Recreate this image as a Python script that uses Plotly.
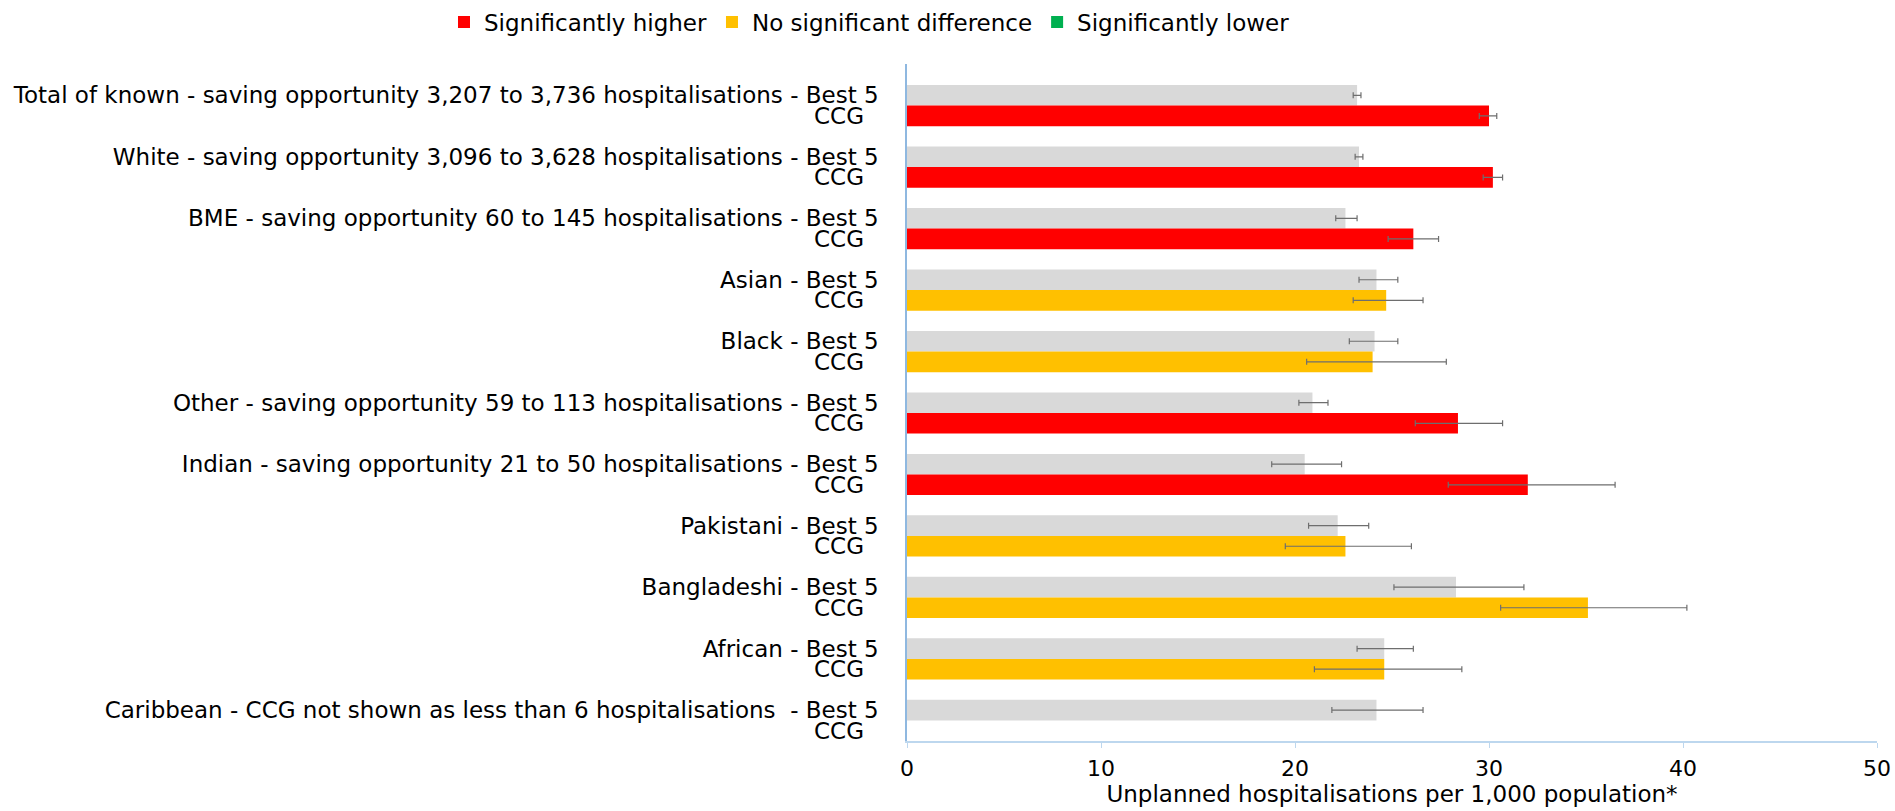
import plotly.graph_objects as go

categories = [
    "Total of known - saving opportunity 3,207 to 3,736 hospitalisations - Best 5",
    "White - saving opportunity 3,096 to 3,628 hospitalisations - Best 5",
    "BME - saving opportunity 60 to 145 hospitalisations - Best 5",
    "Asian - Best 5",
    "Black - Best 5",
    "Other - saving opportunity 59 to 113 hospitalisations - Best 5",
    "Indian - saving opportunity 21 to 50 hospitalisations - Best 5",
    "Pakistani - Best 5",
    "Bangladeshi - Best 5",
    "African - Best 5",
    "Caribbean - CCG not shown as less than 6 hospitalisations  - Best 5",
]
ccg_label = "CCG"
best5 = [23.2, 23.3, 22.6, 24.2, 24.1, 20.9, 20.5, 22.2, 28.3, 24.6, 24.2]
best5_lo = [23.0, 23.1, 22.1, 23.3, 22.8, 20.2, 18.8, 20.7, 25.1, 23.2, 21.9]
best5_hi = [23.4, 23.5, 23.2, 25.3, 25.3, 21.7, 22.4, 23.8, 31.8, 26.1, 26.6]
ccg = [30.0, 30.2, 26.1, 24.7, 24.0, 28.4, 32.0, 22.6, 35.1, 24.6, None]
ccg_lo = [29.5, 29.7, 24.8, 23.0, 20.6, 26.2, 27.9, 19.5, 30.6, 21.0, None]
ccg_hi = [30.4, 30.7, 27.4, 26.6, 27.8, 30.7, 36.5, 26.0, 40.2, 28.6, None]
significance = ["higher", "higher", "higher", "none", "none", "higher",
                "higher", "none", "none", "none", None]

sig_groups = [("higher", "Significantly higher", "#FF0000"),
              ("none", "No significant difference", "#FFC000"),
              ("lower", "Significantly lower", "#00B050")]

FONT = "DejaVu Sans, Verdana, sans-serif"
BARGAP = 0.33
half = (1 - BARGAP) / 4  # centre offset of each bar within its group

idx = list(range(len(categories)))
tickvals, ticktext = [], []
for i, c in zip(idx, categories):
    tickvals += [i - half, i + half]
    ticktext += [c, ccg_label + "\u00a0\u00a0"]

fig = go.Figure()
fig.add_trace(go.Bar(
    y=idx, x=best5, orientation="h", name="Best 5",
    marker=dict(color="#D9D9D9", line=dict(width=0)),
    offsetgroup="best", showlegend=False,
    error_x=dict(type="data", symmetric=False,
                 array=[h - v for h, v in zip(best5_hi, best5)],
                 arrayminus=[v - l for v, l in zip(best5, best5_lo)],
                 color="#6E6E6E", thickness=1.2, width=3),
))
for key, name, color in sig_groups:
    xs, plus, minus = [], [], []
    for v, lo, hi, s in zip(ccg, ccg_lo, ccg_hi, significance):
        if s == key and v is not None:
            xs.append(v); plus.append(hi - v); minus.append(v - lo)
        else:
            xs.append(None); plus.append(None); minus.append(None)
    fig.add_trace(go.Bar(
        y=idx, x=xs, orientation="h", name=name,
        marker=dict(color=color, line=dict(width=0)),
        offsetgroup="ccg", showlegend=True,
        error_x=dict(type="data", symmetric=False, array=plus, arrayminus=minus,
                     color="#6E6E6E", thickness=1.2, width=3),
    ))

top_pad = 0.677
bottom_edge = len(categories) - 1 + 2 * half

fig.update_layout(
    width=1895, height=811,
    barmode="group", bargap=BARGAP, bargroupgap=0,
    plot_bgcolor="white", paper_bgcolor="white",
    font=dict(family=FONT, size=23, color="#000000"),
    margin=dict(l=907, r=18, t=64, b=70, autoexpand=False),
    legend=dict(orientation="h", xref="container", yref="container",
                x=0.2343, xanchor="left", y=1 - 22 / 811, yanchor="middle",
                font=dict(size=23, family=FONT), itemwidth=30,
                traceorder="normal", tracegroupgap=0),
    xaxis=dict(range=[0, 50], tickvals=[0, 10, 20, 30, 40, 50],
               showgrid=False, zeroline=False, showline=True,
               linecolor="#BDD7EE", linewidth=1.5,
               ticks="outside", ticklen=5, tickcolor="#BDD7EE",
               ticklabelstandoff=2,
               tickfont=dict(size=22, family=FONT),
               title=dict(text="Unplanned hospitalisations per 1,000 population*",
                          font=dict(size=23, family=FONT), standoff=6)),
    yaxis=dict(tickmode="array", tickvals=tickvals, ticktext=ticktext,
               range=[bottom_edge, -top_pad], showgrid=False, zeroline=False,
               showline=True, linecolor="#8FB8E0", linewidth=1.5,
               ticks="", ticklabelstandoff=22,
               tickfont=dict(size=23, family=FONT)),
)

fig.write_html("out.html", config={"displayModeBar": False},
               post_script="document.body.style.margin='0';document.body.style.overflow='hidden';")
